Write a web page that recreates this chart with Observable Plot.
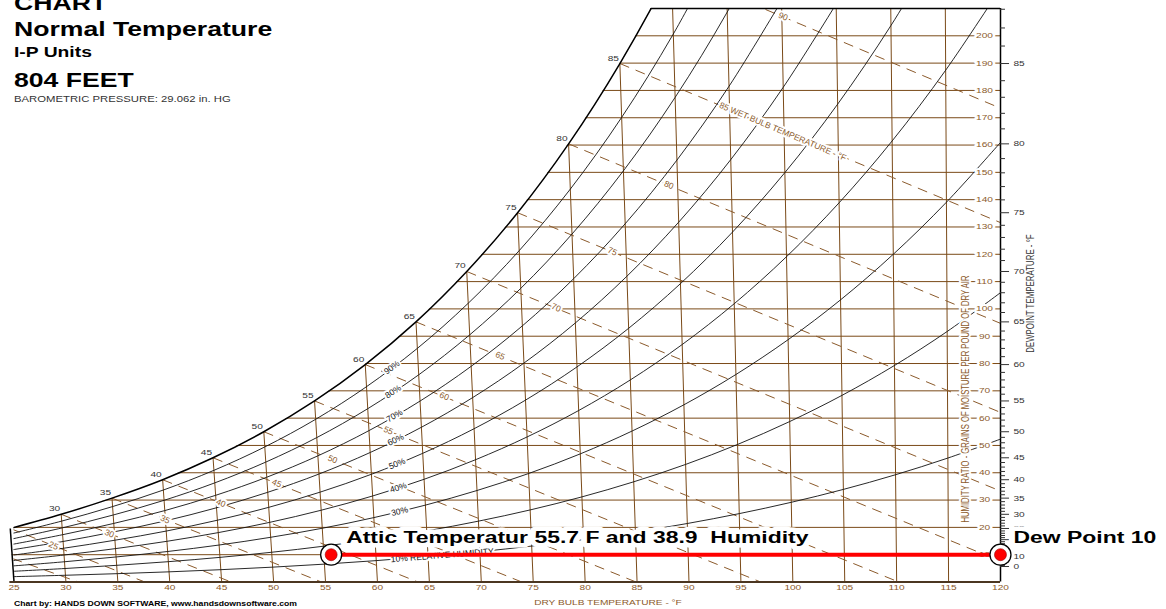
<!DOCTYPE html>
<html><head><meta charset="utf-8">
<script src="https://cdn.jsdelivr.net/npm/d3@7"></script>
<script src="https://cdn.jsdelivr.net/npm/@observablehq/plot@0.6"></script>
<style>
body{margin:0;background:#fff;}
#wrap{position:relative;width:1166px;height:609px;overflow:hidden;font-family:"Liberation Sans",Arial,sans-serif;}
#wrap svg{position:absolute;left:0;top:0;}
#wrap svg text{white-space:pre;}
.t{position:absolute;left:14px;white-space:nowrap;transform-origin:0 0;transform:scaleX(1.33);line-height:1;color:#000;font-weight:bold;}
</style></head><body><div id="wrap"></div>
<script>
// ---------- data ----------
const dryBulb = [25,30,35,40,45,50,55,60,65,70,75,80,85,90,95,100,105,110,115,120];
const satTemps = [0,5,10,15,20,25,30,35,40,45,50,55,60,65,70,75,80,85,90,95,100,105,110,115,120];
const satGrains = [5.67,7.33,9.43,12.1,15.5,19.6,24.79,30.71,37.45,45.48,55.02,66.30,79.61,95.25,113.70,135.22,160.44,189.85,224.11,264.03,310.52,364.59,427.54,500.85,586.41];
const rhLevels = [10,20,30,40,50,60,70,80,90];
const rh10 = [1.96,2.47,3.05,3.72,4.51,5.44,6.54,7.83,9.35,11.11,13.16,15.53,18.27,21.42,25.04,29.18,33.90,39.28,45.39,52.30];
const rh20 = [3.92,4.94,6.11,7.44,9.02,10.89,13.10,15.69,18.72,22.28,26.39,31.17,36.69,43.05,50.37,58.75,68.34,79.28,91.73,105.87];
const rh30 = [5.88,7.41,9.17,11.17,13.54,16.37,19.68,23.58,28.15,33.50,39.72,46.92,55.27,64.89,75.98,88.73,103.32,120.01,139.06,160.76];
const rh40 = [7.84,9.88,12.23,14.90,18.08,21.84,26.28,31.50,37.61,44.78,53.11,62.79,74.00,86.96,101.90,119.11,138.86,161.50,187.41,217.02];
const rh50 = [9.80,12.36,15.30,18.65,22.62,27.34,32.90,39.45,47.12,56.13,66.60,78.77,92.90,109.25,128.13,149.91,174.97,203.77,236.81];
const rh60 = [11.76,14.84,18.38,22.39,27.18,32.85,39.54,47.42,56.66,67.52,80.16,94.86,111.96,131.76,154.67,181.14,211.66];
const rh70 = [13.72,17.32,21.45,26.15,31.74,38.37,46.20,55.43,66.25,78.98,93.80,111.08,131.18,154.49,181.52,212.81];
const rh80 = [15.68,19.81,24.53,29.91,36.30,43.91,52.88,63.46,75.87,90.50,107.53,127.41,150.57,177.46,208.69,244.93];
const rh90 = [17.64,22.30,27.62,33.68,40.89,49.46,59.58,71.52,85.55,102.07,121.33,143.87,170.13,200.67,236.20];
const grainTicks = [10,20,30,40,50,60,70,80,90,100,110,120,130,140,150,160,170,180,190,200];
const dewpointLabels = [0,10,20,25,30,35,40,45,50,55,60,65,70,75,80,85];
const wbTemps  = [20,25,30,35,40,45,50,55,60,65,70,75,80,85,90];
const wbStartT = [25,25,30,35,40,45,50,55,60,65,70,75,80,85,90];
const wbStartW = [8.6,19.6,24.79,30.71,37.45,45.48,55.02,66.30,79.61,95.25,113.70,135.22,160.44,189.85,224.11];
const wbEndT   = [31.2,37.6,45.9,54.6,63.9,73.9,84.9,96.9,110.2,120,120,120,120,120,120];
const wbEndW   = [0,0,0,0,0,0,0,0,0,7.65,33.31,62.13,94.75,131.66,173.57];
const wbLabelTemps = [25,30,35,40,45,50,55,60,65,70,75,80,85,90];
const markerTemps = [55.7, 120];
const markerGrains = [10, 10];
const markerTexts = ["Attic Temperatur 55.7 F and 38.9  Humidity", "Dew Point 10"];

// ---------- chart geometry helpers ----------
const PX_PER_F = (1000 - 13.5) / 95;
const PX_PER_GR = (581.5 - 8) / 210;
const skewPx = T => Math.min(0.19, 0.303 - 0.0025 * T);      // lean of dry-bulb lines, px per grain
const xp = (T, W) => T - skewPx(T) * W / PX_PER_F;
function dpW(td) {
  const i = Math.min(Math.floor(td / 5), satTemps.length - 2);
  const f = (td - satTemps[i]) / 5;
  return Math.exp(Math.log(satGrains[i]) * (1 - f) + Math.log(satGrains[i + 1]) * f);
}
const satAt = T => satGrains[satTemps.indexOf(T)];

const BROWN = "#7a4a18", LBROWN = "#8b5a2b", GREY = "#333";

const rhSeries = [rh10, rh20, rh30, rh40, rh50, rh60, rh70, rh80, rh90];
const rhPoints = rhSeries.flatMap((arr, k) => arr.map((w, i) => ({rh: rhLevels[k], T: dryBulb[i], W: w})));
const satPts = satTemps.map((T, i) => ({T, W: satGrains[i]})).filter(d => d.T >= 25 && d.T <= 95);
const dbLines = dryBulb.filter(T => T > 25 && T < 120).map(T => ({T, top: Math.min(satAt(T), 210)}));
const wbLines = wbTemps.map((t, i) => ({t, t0: wbStartT[i], w0: wbStartW[i], t1: wbEndT[i], w1: wbEndW[i]}));
const wbLab = wbLabelTemps.map(t => {
  const i = wbTemps.indexOf(t);
  const tl = t + 1.71 + 0.0934 * t - (t === 85 ? 0.55 : 0);
  const f = (tl - wbStartT[i]) / (wbEndT[i] - wbStartT[i]);
  const w = wbStartW[i] + f * (wbEndW[i] - wbStartW[i]);
  return {t, x: xp(tl, w), W: w, text: t === 85 ? "85 WET BULB TEMPERATURE - °F" : String(t)};
});
const rhLab = rhLevels.map((r, k) => {
  const arr = rhSeries[k];
  const tl = r === 10 ? 61.4 : 62.5;
  const f = (tl - 60) / 5;
  const w = arr[7] + f * (arr[8] - arr[7]);
  const dx = (xp(65, arr[8]) - xp(60, arr[7])) * PX_PER_F;
  const dy = (arr[8] - arr[7]) * PX_PER_GR;
  return {r, x: xp(tl, w), W: w, angle: -Math.atan2(dy, dx) * 180 / Math.PI,
          text: r === 10 ? "10% RELATIVE HUMIDITY" : r + "%"};
});
const satLab = satPts.filter(d => d.T >= 30 && d.T <= 85);
const dpTicks = d3.range(0, 89).map(td => ({td, W: dpW(td)})).filter(d => d.W <= 210);
const dpLab = dewpointLabels.map(td => ({td, W: dpW(td)}));
const markers = markerTemps.map((T, i) => ({T, W: markerGrains[i], text: markerTexts[i]}));

function label(data, opts, halo, tag) {
  const base = {...opts};
  if (tag) base.ariaDescription = tag;
  const out = [];
  if (halo) out.push(Plot.text(data, {...base, fill: "white", stroke: "white", strokeWidth: halo, strokeLinejoin: "round"}));
  out.push(Plot.text(data, base));
  return out;
}

const chart = Plot.plot({
  width: 1166, height: 609,
  marginLeft: 13.5, marginRight: 166, marginTop: 8, marginBottom: 27.5,
  x: {domain: [25, 120], axis: null},
  y: {domain: [0, 210], axis: null},
  style: {fontFamily: '"Liberation Sans", Arial, sans-serif', background: "transparent"},
  marks: [
    // humidity-ratio grid
    Plot.ruleY(grainTicks, {y: d => d, x1: d => d < satAt(25) ? xp(25, d) : 25, x2: 120, stroke: BROWN, strokeWidth: 1}),
    // dry-bulb lines
    Plot.link(dbLines, {x1: d => d.T, y1: 0, x2: d => xp(d.T, d.top), y2: "top", stroke: BROWN, strokeWidth: 1, clip: true}),
    // wet-bulb lines
    Plot.link(wbLines, {x1: d => xp(d.t0, d.w0), y1: "w0", x2: d => xp(d.t1, d.w1), y2: "w1", stroke: LBROWN, strokeWidth: 1, strokeDasharray: "10,7", clip: true}),
    // relative humidity curves
    Plot.line(rhPoints, {x: d => xp(d.T, d.W), y: "W", z: "rh", stroke: "#111", strokeWidth: 0.9, curve: "catmull-rom", clip: true}),
    // top border
    Plot.ruleY([210], {x1: 80, x2: 120, stroke: "#000", strokeWidth: 1.5}),
    // mask above saturation
    Plot.areaY(satPts, {x: d => xp(d.T, d.W), y1: "W", y2: 214, fill: "white", curve: "catmull-rom"}),
    // saturation curve
    Plot.line(satPts, {x: d => xp(d.T, d.W), y: "W", stroke: "#000", strokeWidth: 1.5, curve: "catmull-rom", clip: true}),
    // borders
    Plot.link([{T: 25, W: satAt(25)}], {x1: 25, y1: 0, x2: d => xp(d.T, d.W), y2: "W", stroke: "#000", strokeWidth: 1.5}),
    Plot.ruleX([120], {y1: 0, y2: 210, stroke: "#000", strokeWidth: 1.5}),
    Plot.ruleY([0], {x1: 24.6, x2: 120, stroke: "#4b3621", strokeWidth: 2}),
    // wet-bulb labels
    label(wbLab.filter(d => d.t !== 85), {x: "x", y: "W", text: "text", rotate: 23, fill: LBROWN, fontSize: 8.5, textAnchor: "middle", lineAnchor: "middle"}, 4),
    label(wbLab.filter(d => d.t === 85), {x: "x", y: "W", text: "text", rotate: 23, fill: LBROWN, fontSize: 8.5, textAnchor: "start", lineAnchor: "middle"}, 4),
    // RH labels
    label(rhLab.filter(d => d.r !== 10), {x: "x", y: "W", text: "text", rotate: d => d.angle, fill: "#111", fontSize: 8.5, textAnchor: "middle", lineAnchor: "middle"}, 4),
    label(rhLab.filter(d => d.r === 10), {x: "x", y: "W", text: "text", rotate: d => d.angle, fill: "#111", fontSize: 8.5, textAnchor: "start", lineAnchor: "middle"}, 4),
    // saturation temperature labels
    label(satLab, {x: d => xp(d.T, d.W), y: "W", text: d => String(d.T), textAnchor: "end", lineAnchor: "bottom", dx: -1, dy: -3, fill: GREY, fontSize: 7.5}, 0, "sx-sat"),
    // grain labels
    label(grainTicks, {y: d => d, text: d => String(d), frameAnchor: "right", dx: -16, fill: LBROWN, fontSize: 7.5, textAnchor: "middle", lineAnchor: "middle"}, 4, "sx-grain"),
    // humidity ratio title
    label(["HUMIDITY RATIO - GRAINS OF MOISTURE PER POUND OF DRY AIR"], {text: d => d, frameAnchor: "right", y: () => 67, dx: -35, rotate: -90, fill: LBROWN, fontSize: 7.7, textAnchor: "middle", lineAnchor: "middle"}, 3, "sy-hr"),
    // dew point scale
    Plot.ruleY(dpTicks, {y: "W", x1: 120, x2: d => d.td % 5 === 0 ? 120.87 : 120.48, stroke: GREY, strokeWidth: 1}),
    label(dpLab, {y: "W", text: d => String(d.td), frameAnchor: "right", dx: 13, fill: GREY, fontSize: 7.5, textAnchor: "start", lineAnchor: "middle"}, 0, "sx-dp"),
    label(["DEWPOINT TEMPERATURE - °F"], {text: d => d, frameAnchor: "right", y: () => 105.6, dx: 30, rotate: -90, fill: GREY, fontSize: 7.9, textAnchor: "middle", lineAnchor: "middle"}, 0, "sy-dp"),
    // dry bulb axis
    label(dryBulb, {x: d => d, text: d => String(d), frameAnchor: "bottom", dy: 6, fill: LBROWN, fontSize: 7.5, textAnchor: "middle", lineAnchor: "middle"}, 0, "sx-xaxis"),
    label(["DRY BULB TEMPERATURE - °F"], {text: d => d, x: () => 82.2, frameAnchor: "bottom", dy: 20.2, fill: LBROWN, fontSize: 7.5, textAnchor: "middle", lineAnchor: "middle"}, 0, "sx-xtitle"),
    // attic annotation
    Plot.line(markers, {x: d => xp(d.T, d.W), y: "W", stroke: "red", strokeWidth: 4}),
    Plot.dot(markers, {x: d => xp(d.T, d.W), y: "W", r: 10.5, fill: "white", stroke: "#000", strokeWidth: 1.3}),
    Plot.dot(markers, {x: d => xp(d.T, d.W), y: "W", r: 6, fill: "red", stroke: "#900", strokeWidth: 0.6}),
    label(markers.slice(0, 1), {x: d => xp(d.T, d.W), y: "W", text: "text", dx: 15, dy: -11.5, textAnchor: "start", lineAnchor: "bottom", fontSize: 17, fontWeight: "bold", fill: "#000"}, 9, "sx-attic"),
    label(markers.slice(1, 2), {x: d => xp(d.T, d.W), y: "W", text: "text", dx: 13, dy: -11.5, textAnchor: "start", lineAnchor: "bottom", fontSize: 17, fontWeight: "bold", fill: "#000"}, 9, "sx-dew")
  ]
});

// horizontal stretch of the original artwork's lettering
chart.querySelectorAll('g[aria-description^="sx"] text').forEach(el => {
  const t = el.getAttribute("transform") || "";
  const x = parseFloat(el.getAttribute("x")) || 0;
  el.setAttribute("transform", `${t} translate(${x},0) scale(1.35,1) translate(${-x},0)`);
});
chart.querySelectorAll('g[aria-description^="sy"] text').forEach(el => {
  const t = el.getAttribute("transform") || "";
  el.setAttribute("transform", `${t} scale(1,1.35)`);
});

const wrap = document.getElementById("wrap");
wrap.appendChild(chart);
const titles = [
  {text: "CHART", size: 20, base: 10},
  {text: "Normal Temperature", size: 20, base: 36},
  {text: "I-P Units", size: 14.5, base: 57},
  {text: "804 FEET", size: 20, base: 87},
  {text: "BAROMETRIC PRESSURE: 29.062 in. HG", size: 8.5, base: 102, weight: "normal", color: "#333"},
  {text: "Chart by: HANDS DOWN SOFTWARE, www.handsdownsoftware.com", size: 6.5, base: 606.5}
];
titles.forEach(o => {
  const d = document.createElement("div");
  d.className = "t";
  d.textContent = o.text;
  d.style.fontSize = o.size + "px";
  d.style.top = (o.base - 0.8465 * o.size) + "px";
  if (o.weight) d.style.fontWeight = o.weight;
  if (o.color) d.style.color = o.color;
  wrap.appendChild(d);
});
</script>
</body></html>
